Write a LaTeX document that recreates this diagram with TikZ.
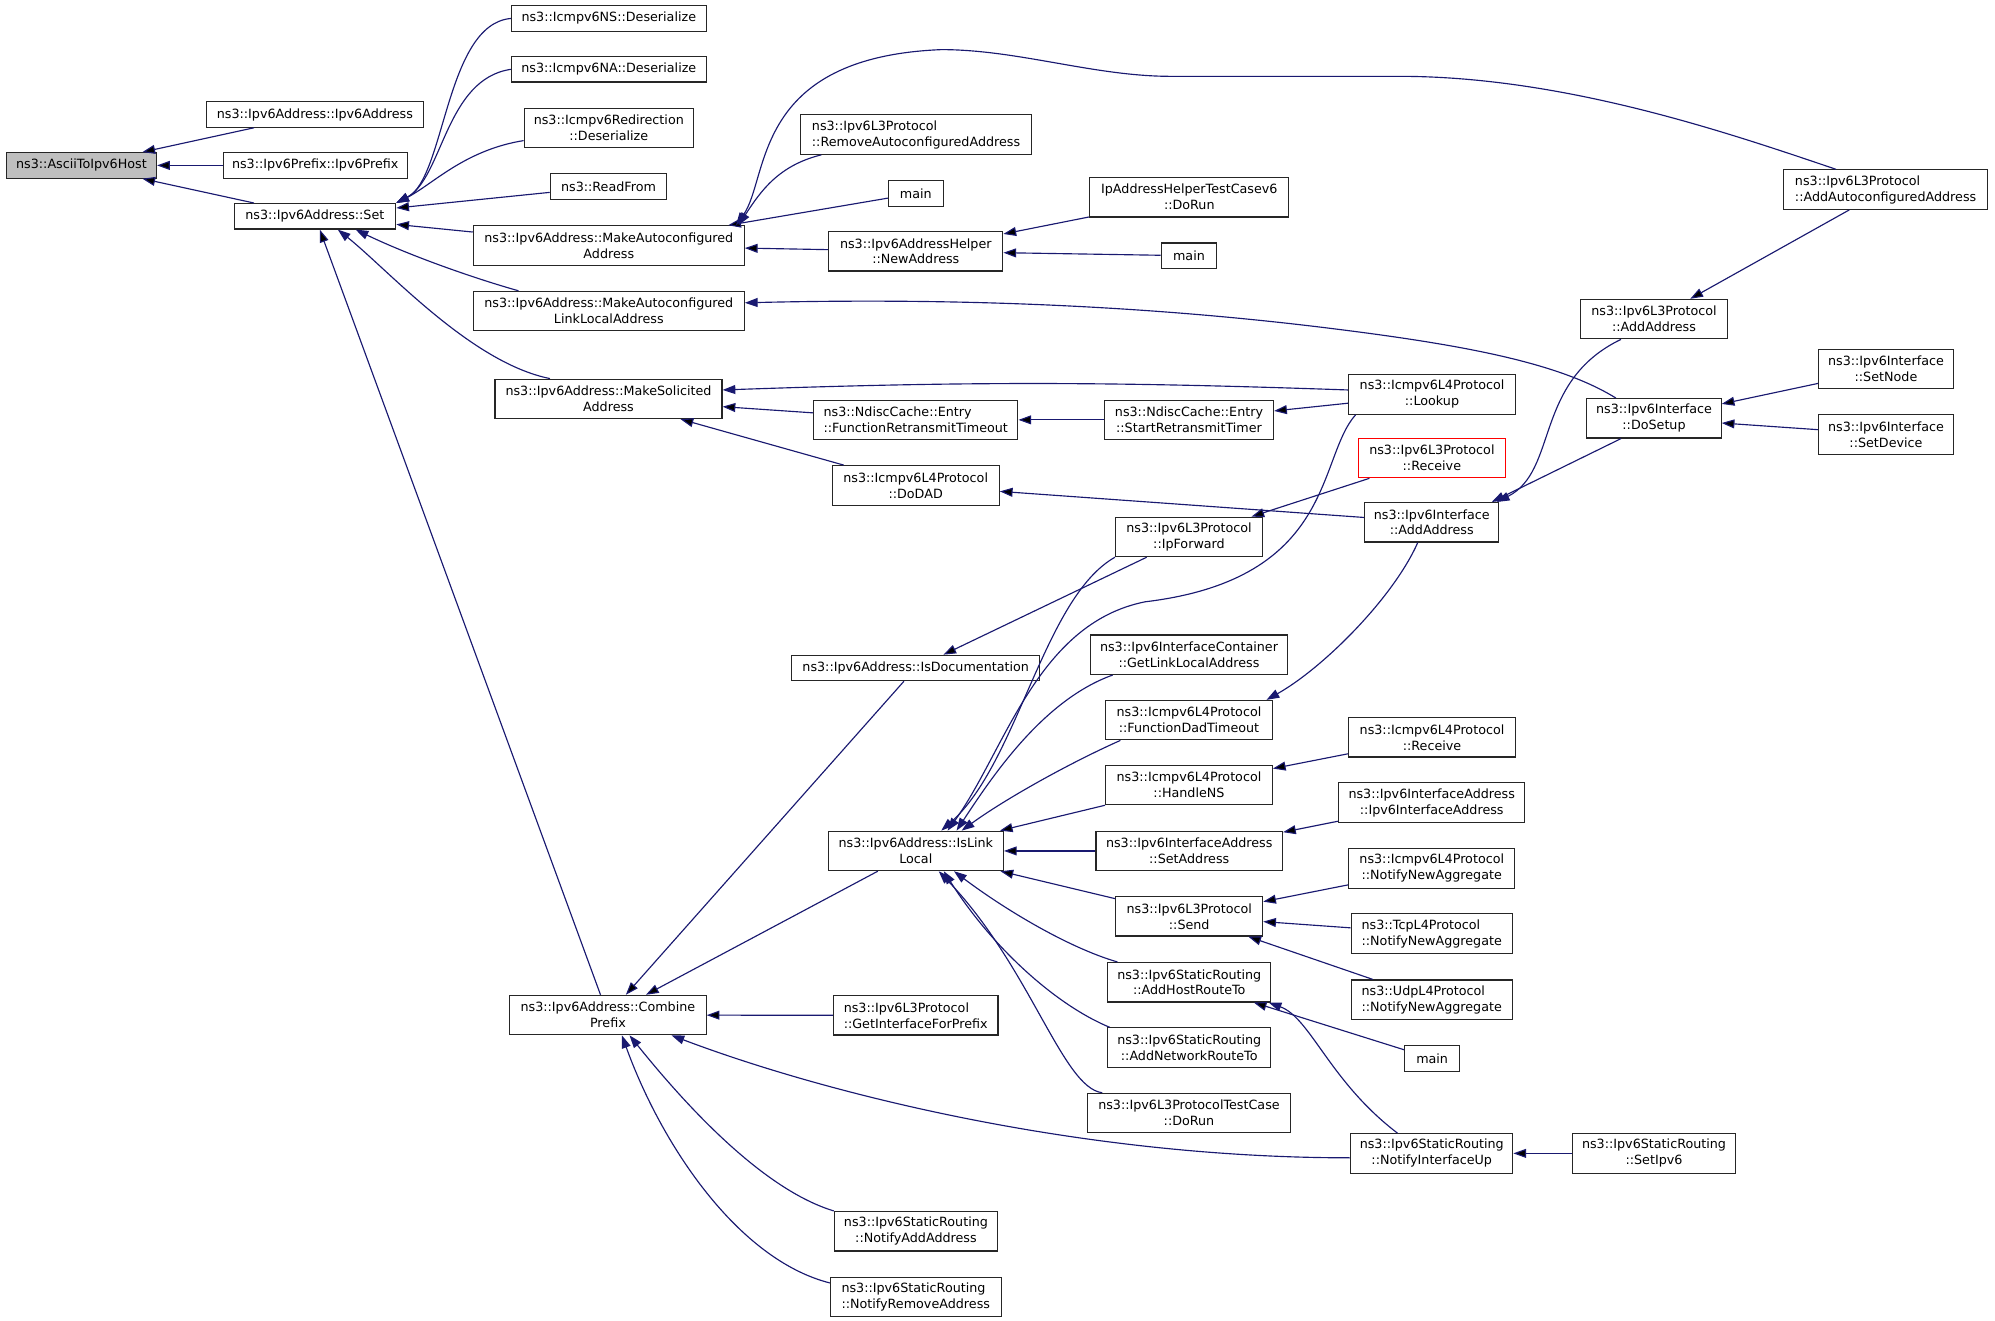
\documentclass[tikz,border=0pt]{standalone}
\usepackage{fontspec}
\setmainfont{DejaVu Sans}
\usetikzlibrary{arrows.meta}
\definecolor{edgeblue}{RGB}{25,25,112}
\tikzset{>={Triangle[length=10pt,width=7pt]},
  func/.style={draw=black!85, rectangle, line width=0.9pt, inner sep=0pt,
    minimum height=20pt, align=center, font=\fontsize{10}{12.5}\selectfont},
  two/.style={minimum height=31pt},
  calls/.style={<-, draw=edgeblue, line width=0.9pt}}

\begin{document}
\begin{tikzpicture}[x=1pt, y=-1pt]
    \useasboundingbox (0,0) rectangle (1568,1037.5);

    % column 1 and 2
    \node[func, fill=black!25, minimum width=118pt] (ascii) at (64,130) {ns3::AsciiToIpv6Host};
    \node[func, minimum width=171pt] (ipaddr) at (247.5,90) {ns3::Ipv6Address::Ipv6Address};
    \node[func, minimum width=144.5pt] (prefix) at (247.75,130) {ns3::Ipv6Prefix::Ipv6Prefix};
    \node[func, minimum width=127pt] (set) at (247.5,170) {ns3::Ipv6Address::Set};

    % column 3
    \node[func, minimum width=153pt] (nsdes) at (478.5,14.5) {ns3::Icmpv6NS::Deserialize};
    \node[func, minimum width=153pt] (nades) at (478.5,54.5) {ns3::Icmpv6NA::Deserialize};
    \node[func, two, minimum width=133pt] (redir) at (478.5,100.5) {ns3::Icmpv6Redirection\\::Deserialize};
    \node[func, minimum width=91.5pt] (readfrom) at (478.25,146.5) {ns3::ReadFrom};
    \node[func, two, minimum width=213pt] (mkaddr) at (478.5,193) {ns3::Ipv6Address::MakeAutoconfigured\\Address};
    \node[func, two, minimum width=213pt] (mkll) at (478.5,244.5) {ns3::Ipv6Address::MakeAutoconfigured\\LinkLocalAddress};
    \node[func, two, minimum width=178.5pt] (solicit) at (478.25,313.5) {ns3::Ipv6Address::MakeSolicited\\Address};
    \node[func, two, minimum width=154.4pt] (combine) at (477.8,797.8) {ns3::Ipv6Address::Combine\\Prefix};

    % column 4
    \node[func, two, align=left, minimum width=182pt] (remove) at (720,105.75) {ns3::Ipv6L3Protocol\\::RemoveAutoconfiguredAddress};
    \node[func, minimum width=43pt] (maina) at (719.8,152) {main};
    \node[func, two, minimum width=136.8pt] (newaddr) at (719.8,197.5) {ns3::Ipv6AddressHelper\\::NewAddress};
    \node[func, two, align=left, minimum width=160.5pt] (frt) at (719.75,330) {ns3::NdiscCache::Entry\\::FunctionRetransmitTimeout};
    \node[func, two, minimum width=131.4pt] (dodad) at (719.7,381.5) {ns3::Icmpv6L4Protocol\\::DoDAD};
    \node[func, minimum width=195pt] (isdoc) at (719.7,525) {ns3::Ipv6Address::IsDocumentation};
    \node[func, two, minimum width=137.7pt] (ill) at (719.8,668.8) {ns3::Ipv6Address::IsLink\\Local};
    \node[func, two, align=left, minimum width=129.4pt] (getifp) at (719.7,798) {ns3::Ipv6L3Protocol\\::GetInterfaceForPrefix};
    \node[func, two, minimum width=128.2pt] (naa) at (719.9,967.7) {ns3::Ipv6StaticRouting\\::NotifyAddAddress};
    \node[func, two, align=left, minimum width=134.1pt] (nra) at (719.75,1019.3) {ns3::Ipv6StaticRouting\\::NotifyRemoveAddress};

    % column 5
    \node[func, two, minimum width=156.5pt] (helpertest) at (934.75,155) {IpAddressHelperTestCasev6\\::DoRun};
    \node[func, minimum width=43.7pt] (mainb) at (934.5,201) {main};
    \node[func, two, minimum width=133pt] (srt) at (934.5,330) {ns3::NdiscCache::Entry\\::StartRetransmitTimer};
    \node[func, two, minimum width=115.5pt] (ipfwd) at (934.5,422) {ns3::Ipv6L3Protocol\\::IpForward};
    \node[func, two, minimum width=155pt] (getll) at (934.5,514.6) {ns3::Ipv6InterfaceContainer\\::GetLinkLocalAddress};
    \node[func, two, minimum width=131pt] (fdt) at (934.5,566) {ns3::Icmpv6L4Protocol\\::FunctionDadTimeout};
    \node[func, two, minimum width=131pt] (handlens) at (934.5,617) {ns3::Icmpv6L4Protocol\\::HandleNS};
    \node[func, two, minimum width=146.6pt] (setaddr) at (934.7,668.8) {ns3::Ipv6InterfaceAddress\\::SetAddress};
    \node[func, two, minimum width=115.4pt] (send) at (934.7,720.2) {ns3::Ipv6L3Protocol\\::Send};
    \node[func, two, minimum width=128pt] (addhost) at (934.7,772) {ns3::Ipv6StaticRouting\\::AddHostRouteTo};
    \node[func, two, minimum width=128pt] (addnet) at (934.7,823.4) {ns3::Ipv6StaticRouting\\::AddNetworkRouteTo};
    \node[func, two, minimum width=159.5pt] (l3test) at (934.5,874.8) {ns3::Ipv6L3ProtocolTestCase\\::DoRun};

    % column 6
    \node[func, two, minimum width=131pt] (lookup) at (1125.5,310) {ns3::Icmpv6L4Protocol\\::Lookup};
    \node[func, two, draw=red, minimum width=115.3pt] (recv3) at (1125.4,360) {ns3::Ipv6L3Protocol\\::Receive};
    \node[func, two, minimum width=105.4pt] (iaddr) at (1125.3,410.5) {ns3::Ipv6Interface\\::AddAddress};
    \node[func, two, minimum width=131pt] (recv4) at (1125.5,579.5) {ns3::Icmpv6L4Protocol\\::Receive};
    \node[func, two, minimum width=146.3pt] (ifaddrctor) at (1125.3,630.8) {ns3::Ipv6InterfaceAddress\\::Ipv6InterfaceAddress};
    \node[func, two, minimum width=130.7pt] (icmpagg) at (1125.3,682.5) {ns3::Icmpv6L4Protocol\\::NotifyNewAggregate};
    \node[func, two, align=left, minimum width=126.7pt] (tcpagg) at (1125.3,733.8) {ns3::TcpL4Protocol\\::NotifyNewAggregate};
    \node[func, two, align=left, minimum width=126.7pt] (udpagg) at (1125.3,785.7) {ns3::UdpL4Protocol\\::NotifyNewAggregate};
    \node[func, minimum width=43.4pt] (mainc) at (1125.6,832) {main};
    \node[func, two, minimum width=127.4pt] (niu) at (1125.3,906.5) {ns3::Ipv6StaticRouting\\::NotifyInterfaceUp};

    % column 7 and 8
    \node[func, two, minimum width=115.6pt] (addaddr) at (1300,250.8) {ns3::Ipv6L3Protocol\\::AddAddress};
    \node[func, two, minimum width=105.5pt] (dosetup) at (1300,328.8) {ns3::Ipv6Interface\\::DoSetup};
    \node[func, two, minimum width=128pt] (setipv6) at (1300,906.5) {ns3::Ipv6StaticRouting\\::SetIpv6};
    \node[func, two, align=left, minimum width=160.5pt] (aauto) at (1482,149) {ns3::Ipv6L3Protocol\\::AddAutoconfiguredAddress};
    \node[func, two, minimum width=105.8pt] (setnode) at (1482.3,290) {ns3::Ipv6Interface\\::SetNode};
    \node[func, two, minimum width=105.8pt] (setdev) at (1482.3,341.4) {ns3::Ipv6Interface\\::SetDevice};

    % straight calls
    \draw[calls] (ascii) edge (ipaddr) (ascii) edge (prefix) (ascii) edge (set)
        (set) edge (readfrom) (set) edge (mkaddr) (set) edge (combine)
        (mkaddr) edge (maina) (mkaddr) edge (newaddr)
        (newaddr) edge (helpertest) (newaddr) edge (mainb)
        (addaddr) edge (aauto)
        (solicit) edge (frt) (solicit) edge (dodad)
        (frt) edge (srt) (srt) edge (lookup)
        (dosetup) edge (setnode) (dosetup) edge (setdev)
        (dodad) edge (iaddr) (ipfwd) edge (recv3) (isdoc) edge (ipfwd)
        (combine) edge (isdoc) (combine) edge (ill) (combine) edge (getifp)
        (ill) edge (handlens) (ill) edge (setaddr) (ill) edge (send)
        (handlens) edge (recv4) (setaddr) edge (ifaddrctor)
        (send) edge (icmpagg) (send) edge (tcpagg) (send) edge (udpagg)
        (addhost) edge (mainc) (niu) edge (setipv6);
    \draw[calls] ([yshift=7pt]solicit.east) to[bend left=2] ([yshift=3.5pt]lookup.west);

    % curved calls
    \draw[calls] (set.north east) .. controls (350,140) and (350,19) .. (nsdes.west);
    \draw[calls] (set.north east) .. controls (348,140) and (350,62) .. (nades.west);
    \draw[calls] (set.north east) .. controls (340,145) and (365,118) .. ([yshift=-10pt]redir.west);
    \draw[calls] ([xshift=32pt]set.south) .. controls (320,200) and (370,218) .. ([xshift=-71pt]mkll.north);
    \draw[calls] ([xshift=18pt]set.south) .. controls (305,212) and (370,285) .. ([xshift=-46pt]solicit.north);
    \draw[calls] ([xshift=-7pt]mkaddr.north east) .. controls (605,140) and (590,45) .. (740,39)
        .. controls (800,39) and (860,60) .. (920,60) -- (1100,60)
        .. controls (1230,60) and (1360,105) .. ([xshift=-39pt]aauto.north);
    \draw[calls] ([xshift=-5pt]mkaddr.north east) .. controls (598,150) and (612,130) .. ([xshift=17pt]remove.south west);
    \draw[calls] ([yshift=6.5pt]mkll.east) .. controls (750,234) and (900,240) .. (1045,258)
        .. controls (1150,271) and (1225,285) .. ([xshift=-30pt]dosetup.north);
    \draw[calls] ([xshift=25pt]ill.north) .. controls (790,590) and (815,490) .. (900,473)
        .. controls (1050,455) and (1035,360) .. ([xshift=-60pt]lookup.south);
    \draw[calls] ([xshift=20pt]ill.north) .. controls (800,600) and (820,470) .. (ipfwd.south west);
    \draw[calls] ([xshift=32pt]ill.north) .. controls (780,610) and (820,550) .. ([xshift=18pt]getll.south west);
    \draw[calls] ([xshift=36pt]ill.north) .. controls (790,628) and (840,600) .. ([xshift=12pt]fdt.south west);
    \draw[calls] ([xshift=-5pt]fdt.north east) .. controls (1040,525) and (1095,470) .. ([xshift=-11pt]iaddr.south);
    \draw[calls] ([xshift=-2pt]iaddr.north east) .. controls (1225,370) and (1205,300) .. ([xshift=-26pt]addaddr.south);
    \draw[calls] ([xshift=-6pt]iaddr.north east) -- ([xshift=-26pt]dosetup.south);
    \draw[calls] ([xshift=30pt]ill.south) .. controls (790,715) and (840,745) .. ([xshift=8pt]addhost.north west);
    \draw[calls] ([xshift=22pt]ill.south) .. controls (780,745) and (830,790) .. ([xshift=2pt]addnet.north west);
    \draw[calls] ([xshift=18pt]ill.south) .. controls (810,760) and (835,855) .. ([xshift=12pt]l3test.north west);
    \draw[calls] ([xshift=-2pt]addhost.south east) .. controls (1030,800) and (1045,850) .. ([xshift=-27pt]niu.north);
    \draw[calls] ([xshift=50pt]combine.south) .. controls (650,860) and (850,910) .. ([yshift=-3.5pt]niu.west);
    \draw[calls] ([xshift=17pt]combine.south) .. controls (540,870) and (600,935) .. (naa.north west);
    \draw[calls] ([xshift=11pt]combine.south) .. controls (520,900) and (580,990) .. ([yshift=-5pt]nra.north west);
\end{tikzpicture}
\end{document}
